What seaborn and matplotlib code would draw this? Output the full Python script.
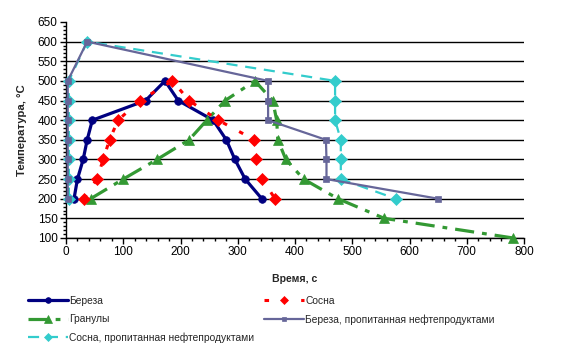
import pandas as pd
import matplotlib.pyplot as plt
import seaborn as sns

# temperature levels, first going up, then going down
temp_up_down = [200, 250, 300, 350, 400, 450, 500, 450, 400, 350, 300, 250, 200]

bereza_t = [14, 20, 30, 37, 46, 139, 173, 196, 257, 280, 295, 313, 342]
sosna_t = [31, 54, 65, 76, 91, 129, 186, 215, 266, 329, 332, 343, 365]

granuly_y = [200, 250, 300, 350, 400, 450, 500, 450, 400, 350, 300, 250, 200, 150, 100]
granuly_t = [43, 100, 159, 215, 246, 278, 330, 361, 368, 370, 384, 415, 475, 556, 781]

impr_y = [200, 250, 300, 350, 400, 450, 500, 600, 500, 450, 400, 350, 300, 250, 200]
bereza_impr_t = [3, 3, 3, 3, 3, 3, 3, 37, 353, 353, 353, 454, 455, 455, 650]
sosna_impr_t = [5, 5, 5, 5, 5, 5, 5, 37, 470, 470, 470, 480, 480, 480, 576]

series = [
    ("Береза", bereza_t, temp_up_down,
     dict(color="#000080", lw=2.3, marker="o", ms=5.5, linestyle="-")),
    ("Гранулы", granuly_t, granuly_y,
     dict(color="#339933", lw=2.3, marker="^", ms=7, linestyle=(0, (6, 2.5, 1.5, 2.5)))),
    ("Сосна, пропитанная нефтепродуктами", sosna_impr_t, impr_y,
     dict(color="#33CCCC", lw=1.6, marker="D", ms=6, linestyle=(0, (5, 3.5)))),
    ("Сосна", sosna_t, temp_up_down,
     dict(color="#FF0000", lw=2.2, marker="D", ms=6, linestyle=(0, (1.5, 4.5)))),
    ("Береза, пропитанная нефтепродуктами", bereza_impr_t, impr_y,
     dict(color="#666699", lw=1.6, marker="s", ms=4.5, linestyle="-")),
]
draw_order = [4, 2, 1, 3, 0]

sns.set_style("ticks")
plt.rcParams["font.family"] = ["Liberation Sans", "DejaVu Sans"]

fig = plt.figure(figsize=(5.62, 3.56), dpi=100)
ax = fig.add_axes([66 / 562, 118 / 356, 458 / 562, 216 / 356])

handles = {}
for i in draw_order:
    name, xs, ys, st = series[i]
    df = pd.DataFrame({"t": xs, "T": ys})
    sns.lineplot(data=df, x="t", y="T", sort=False, estimator=None, ax=ax,
                 color=st["color"], lw=st["lw"], marker=st["marker"], ms=st["ms"],
                 mec=st["color"], mfc=st["color"], mew=0.5,
                 linestyle=st["linestyle"], clip_on=False, zorder=3 + i)
    handles[name] = ax.lines[-1]

ax.set_xlim(0, 800)
ax.set_ylim(100, 650)
ax.set_xticks(range(0, 801, 100))
ax.set_yticks(range(100, 651, 50))
ax.set_xticks(range(0, 801, 20), minor=True)
ax.set_yticks(range(100, 651, 10), minor=True)
ax.tick_params(axis="both", which="major", labelsize=8.5, length=4, width=1,
               color="black", labelcolor="black", pad=2)
ax.tick_params(axis="both", which="minor", length=2.5, width=1, color="black")

ax.yaxis.grid(True, color="black", lw=1)
ax.get_ygridlines()[-1].set_visible(False)
ax.set_axisbelow(True)
for s in ["top", "right"]:
    ax.spines[s].set_visible(False)
for s in ["left", "bottom"]:
    ax.spines[s].set_color("black")
    ax.spines[s].set_linewidth(1)

ax.set_xlabel("Время, с", fontsize=7.6, fontweight="bold", labelpad=11)
ax.set_ylabel("Температура, °С", fontsize=8.2, fontweight="bold", labelpad=8)

names = [s[0] for s in series]
fig.legend([handles[n] for n in names], names, loc="upper left",
           bbox_to_anchor=(28 / 562, 1 - 296 / 356), ncol=2, frameon=False,
           fontsize=7.4, handlelength=3.9, handletextpad=0.1, labelspacing=0.8,
           columnspacing=0.95, borderpad=0, borderaxespad=0, numpoints=1,
           markerscale=0.75)

fig.savefig("out.png", dpi=100)
